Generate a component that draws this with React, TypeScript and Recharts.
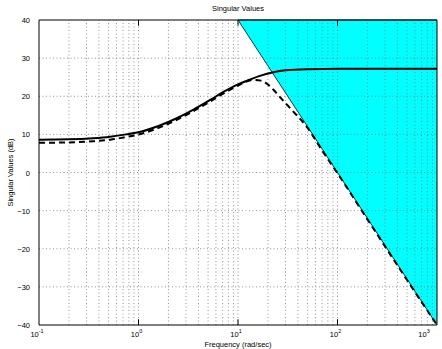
import React from 'react';
import { ComposedChart, Line, Area, XAxis, YAxis, ReferenceLine, Label } from 'recharts';

// solid: largest singular value, dashed: smallest
const solidFreq = [0.1, 0.2, 0.35, 0.52, 0.75, 1.05, 1.66, 2.45, 3.57, 5.3, 7, 10, 12.4, 16, 22.7, 30, 50, 100, 1000];
const solidDb = [8.6, 8.7, 9.0, 9.4, 10.0, 10.7, 12.4, 14.3, 16.5, 19.1, 21.0, 23.1, 24.1, 25.2, 26.3, 26.8, 27.1, 27.2, 27.2];

const dashFreq = [0.1, 0.2, 0.35, 0.52, 0.75, 1.05, 1.66, 2.45, 3.57, 5.3, 7, 10, 12, 14, 17, 20, 22.7, 27, 33.6, 50, 70, 100, 200, 500, 1000];
const dashDb = [7.8, 7.9, 8.2, 8.6, 9.3, 10.1, 11.9, 13.9, 16.1, 18.7, 20.6, 22.8, 23.8, 24.3, 24.1, 23.1, 21.7, 19.5, 16.8, 11.7, 5.8, -0.2, -12.3, -28.2, -40];

// shaded bound, filled up to the top of the axes
const boundFreq = [10, 1000];
const boundDb = [40, -40];

const xMajor = [0.1, 1, 10, 100, 1000];
const xExp = ['-1', '0', '1', '2', '3'];
const yTicks = [-40, -30, -20, -10, 0, 10, 20, 30, 40];
const xMinor = [2, 3, 4, 5, 6, 7, 8, 9];

const solidData = solidFreq.map((f, i) => ({ f, v: solidDb[i] }));
const dashData = dashFreq.map((f, i) => ({ f, v: dashDb[i] }));
const boundData = boundFreq.map((f, i) => ({ f, range: [boundDb[i], 40] }));

const gridX: number[] = [];
[0.1, 1, 10, 100].forEach((d) => xMinor.forEach((m) => gridX.push(d * m)));
gridX.push(1, 10, 100);

const FONT = 'Liberation Sans, Arial, sans-serif';

const XTick = ({ x, payload }: any) => {
  const i = xMajor.indexOf(payload.value);
  return (
    <text x={x - 2} y={337} textAnchor="middle" fontSize={7.5} fontFamily={FONT} fill="#000">
      10
      <tspan dy={-4} fontSize={5.5}>{xExp[i]}</tspan>
    </text>
  );
};

const YTick = ({ x, y, payload }: any) => (
  <text x={x - 1} y={y + 3} textAnchor="end" fontSize={7.5} fontFamily={FONT} fill="#000">
    {payload.value < 0 ? '\u2212' + Math.abs(payload.value) : payload.value}
  </text>
);

const App: React.FC = () => {
  const grid = { stroke: '#777', strokeDasharray: '1 2.5', strokeWidth: 0.8 };
  return (
    <div style={{ position: 'absolute', left: 0, top: 0, width: 442, height: 349, background: '#fff', overflow: 'hidden' }}>
      <ComposedChart width={442} height={349} margin={{ top: 20, right: 5, bottom: 0, left: 0 }}>
        <XAxis
          dataKey="f"
          type="number"
          scale="log"
          domain={[0.1, 1000]}
          allowDataOverflow
          ticks={xMajor}
          tick={<XTick />}
          tickLine={false}
          axisLine={{ stroke: '#000', strokeWidth: 1 }}
          height={24}
        />
        <YAxis
          type="number"
          domain={[-40, 40]}
          ticks={yTicks}
          tick={<YTick />}
          tickLine={false}
          axisLine={{ stroke: '#000', strokeWidth: 1 }}
          width={39}
        >
          <Label value="Singular Values (dB)" angle={-90} position="insideLeft" offset={10} fontSize={7.5} fontFamily={FONT} fill="#000" style={{ textAnchor: 'middle' }} />
        </YAxis>

        {gridX.map((g) => (
          <ReferenceLine key={'gx' + g} x={g} {...grid} />
        ))}
        {yTicks.slice(1, -1).map((g) => (
          <ReferenceLine key={'gy' + g} y={g} {...grid} />
        ))}

        <Area
          data={boundData}
          dataKey="range"
          type="linear"
          fill="#00ffff"
          fillOpacity={1}
          stroke="#004040"
          strokeWidth={1}
          isAnimationActive={false}
        />
        <Line data={solidData} dataKey="v" type="monotone" stroke="#000" strokeWidth={2} dot={false} isAnimationActive={false} />
        <Line data={dashData} dataKey="v" type="monotone" stroke="#000" strokeWidth={2} strokeDasharray="6 4" dot={false} isAnimationActive={false} />

        {xMajor.slice(1, -1).map((t) => (
          <ReferenceLine key={'tb' + t} segment={[{ x: t, y: -40 }, { x: t, y: -38.5 }]} stroke="#000" />
        ))}
        {xMajor.slice(1, -1).map((t) => (
          <ReferenceLine key={'tt' + t} segment={[{ x: t, y: 40 }, { x: t, y: 38.5 }]} stroke="#000" />
        ))}
        <ReferenceLine y={40} stroke="#000" strokeWidth={1} />
        <ReferenceLine x={1000} stroke="#000" strokeWidth={1} />
      </ComposedChart>
      <div
        style={{
          position: 'absolute',
          left: 39,
          width: 398,
          top: 4,
          textAlign: 'center',
          fontSize: 7.5,
          fontFamily: FONT,
          color: '#000',
          lineHeight: '9px',
        }}
      >
        Singular Values
      </div>
      <div
        style={{
          position: 'absolute',
          left: 39,
          width: 398,
          top: 340,
          textAlign: 'center',
          fontSize: 7.5,
          fontFamily: FONT,
          color: '#000',
          lineHeight: '9px',
        }}
      >
        Frequency (rad/sec)
      </div>
    </div>
  );
};

export default App;
